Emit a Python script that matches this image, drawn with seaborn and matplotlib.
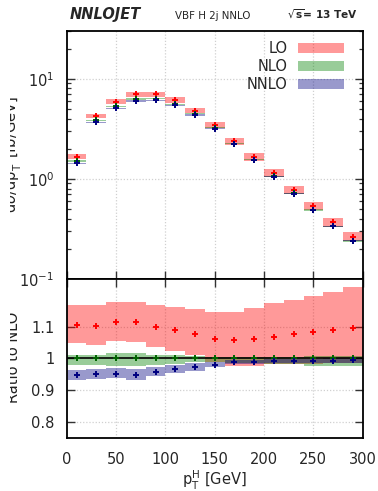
import numpy as np
import matplotlib
matplotlib.use("Agg")
import matplotlib.pyplot as plt
from matplotlib.transforms import Bbox
from matplotlib.ticker import FixedLocator, LogLocator, NullFormatter
import seaborn as sns

# p_T^H bins [GeV]
bin_edges = [0, 20, 40, 60, 80, 100, 120, 140, 160, 180, 200, 220, 240, 260, 280, 300]

# NLO central prediction dsigma/dpT [fb/GeV]
nlo = [1.51, 3.85, 5.31, 6.31, 6.35, 5.60, 4.47, 3.25, 2.25, 1.56, 1.06, 0.716, 0.492, 0.339, 0.242]
nlo_up = [1.012, 1.012, 1.016, 1.016, 1.012, 1.009, 1.008, 1.004, 1.003, 1.003, 1.005, 1.005, 1.008, 1.008, 1.008]
nlo_dn = [0.980, 0.980, 0.977, 0.976, 0.979, 0.983, 0.988, 0.988, 0.985, 0.985, 0.983, 0.983, 0.975, 0.975, 0.975]

# LO and NNLO relative to NLO, with scale-variation envelopes
lo_ratio = [1.106, 1.102, 1.113, 1.113, 1.099, 1.088, 1.077, 1.060, 1.058, 1.060, 1.068, 1.076, 1.083, 1.088, 1.097]
lo_up = [1.167, 1.167, 1.179, 1.179, 1.167, 1.161, 1.154, 1.145, 1.147, 1.158, 1.173, 1.184, 1.198, 1.210, 1.224]
lo_dn = [1.049, 1.043, 1.054, 1.051, 1.035, 1.022, 1.009, 0.987, 0.977, 0.975, 0.983, 0.983, 0.983, 0.985, 0.985]

nnlo_ratio = [0.948, 0.952, 0.952, 0.948, 0.958, 0.967, 0.973, 0.980, 0.988, 0.988, 0.993, 0.991, 0.993, 0.993, 0.994]
nnlo_up = [0.964, 0.966, 0.970, 0.966, 0.972, 0.980, 0.985, 0.988, 0.995, 0.995, 0.999, 0.999, 0.999, 1.000, 1.002]
nnlo_dn = [0.932, 0.935, 0.937, 0.933, 0.945, 0.955, 0.960, 0.973, 0.982, 0.982, 0.984, 0.984, 0.984, 0.985, 0.985]

orders = ["LO", "NLO", "NNLO"]
band_colors = {"LO": "#ff0000", "NLO": "#008000", "NNLO": "#000080"}
mark_colors = {"LO": "#ff0000", "NLO": "#006400", "NNLO": "#000080"}

edges = np.array(bin_edges, dtype=float)
centers = 0.5 * (edges[:-1] + edges[1:])
nlo_a = np.array(nlo)
ratios = {
    "LO": (np.array(lo_ratio), np.array(lo_dn), np.array(lo_up)),
    "NLO": (np.ones(len(nlo)), np.array(nlo_dn), np.array(nlo_up)),
    "NNLO": (np.array(nnlo_ratio), np.array(nnlo_dn), np.array(nnlo_up)),
}

sns.set_theme(style="ticks")
plt.rcParams["font.family"] = ["DejaVu Sans"]
plt.rcParams["mathtext.fontset"] = "dejavusans"

W, H = 378, 491
fig = plt.figure(figsize=(W / 100, H / 100), dpi=100)
x0, x1 = 66.7, 362.7
ax = fig.add_axes([x0 / W, (H - 279) / H, (x1 - x0) / W, (279 - 31) / H])
axr = fig.add_axes([x0 / W, (H - 437.7) / H, (x1 - x0) / W, (437.7 - 279) / H])


def step(vals):
    return np.append(vals, vals[-1])


grid_kw = dict(color="#d0d0d0", linestyle=(0, (1, 1.5)), linewidth=0.9)

handles = []
for name in orders:
    r, dn, up = ratios[name]
    c = band_colors[name]
    h = ax.fill_between(edges, step(nlo_a * dn), step(nlo_a * up), step="post",
                        color=c, alpha=0.4, linewidth=0, zorder=2, label=name)
    handles.append(h)
    axr.fill_between(edges, step(dn), step(up), step="post",
                     color=c, alpha=0.4, linewidth=0, zorder=2)

axr.axhline(1.0, color="black", linewidth=1.2, zorder=3)

for name in orders:
    r, dn, up = ratios[name]
    sns.scatterplot(x=centers, y=nlo_a * r, ax=ax, marker="+", s=13,
                    color=mark_colors[name], linewidth=1.4, zorder=4, legend=False)
    sns.scatterplot(x=centers, y=r, ax=axr, marker="+", s=13,
                    color=mark_colors[name], linewidth=1.4, zorder=4, legend=False)

# upper panel: absolute distribution
ax.set_yscale("log")
ax.set_xlim(0, 300)
ax.set_ylim(0.1, 30)
ax.yaxis.set_major_locator(FixedLocator([0.1, 1, 10]))
ax.yaxis.set_minor_locator(LogLocator(base=10, subs=np.arange(2, 10)))
ax.yaxis.set_minor_formatter(NullFormatter())
ax.set_xticks([0, 50, 100, 150, 200, 250, 300])
ax.tick_params(axis="x", which="both", direction="in", bottom=True, top=False,
               labelbottom=False, length=6, width=1.0, color="#333333")
ax.tick_params(axis="y", which="major", direction="in", left=True, right=True,
               length=6, width=1.0, labelsize=10.5, pad=9, color="#333333")
ax.tick_params(axis="y", which="minor", direction="in", left=True, right=True,
               length=3, width=0.9, color="#333333")
for v in [50, 100, 150, 200, 250]:
    ax.axvline(v, zorder=0, **grid_kw)
for v in [1, 10]:
    ax.axhline(v, zorder=0, **grid_kw)

# lower panel: ratio to NLO
axr.set_xlim(0, 300)
axr.set_ylim(0.75, 1.25)
axr.set_yticks([0.8, 0.9, 1.0, 1.1])
axr.set_yticklabels(["0.8", "0.9", "1", "1.1"])
axr.set_xticks([0, 50, 100, 150, 200, 250, 300])
axr.tick_params(axis="x", direction="in", bottom=False, top=True, labelbottom=True,
                length=6, width=1.0, labelsize=10.5, pad=10, color="#333333")
axr.tick_params(axis="y", direction="in", left=True, right=True, length=6,
                width=1.0, labelsize=10.5, pad=9, color="#333333")
for v in [50, 100, 150, 200, 250]:
    axr.axvline(v, zorder=0, **grid_kw)
for v in [0.8, 0.9, 1.1]:
    axr.axhline(v, zorder=0, **grid_kw)

for a in (ax, axr):
    for s in a.spines.values():
        s.set_color("black")
        s.set_linewidth(1.3)
        s.set_zorder(5)
    a.set_facecolor("white")

leg = ax.legend(handles=handles, loc="upper right", markerfirst=False, frameon=False,
                fontsize=10.5, handlelength=3.2, handleheight=0.6, handletextpad=0.7,
                labelspacing=0.2, borderaxespad=0.3, bbox_to_anchor=(0.972, 1.0))

fig.text((x0 + x1) / 2 / W, (H - 480) / H, r"$\mathrm{p}_\mathrm{T}^\mathrm{H}$ [GeV]",
         fontsize=10.5, ha="center", va="center")

# rotated axis titles, trimmed along their upper edge
clip = Bbox.from_extents(9.5, 0, W, H)
for txt, yc in [(r"d$\sigma$/dp$_\mathrm{T}^\mathrm{H}$ [fb/GeV]", 155),
                ("Ratio to NLO", 357)]:
    t = fig.text(17.8 / W, (H - yc) / H, txt, rotation=90, rotation_mode="anchor",
                 ha="center", va="baseline", fontsize=10.5, color="#222222")
    t.set_clip_on(True)
    t.set_clip_box(clip)

# header
fig.text(70 / W, (H - 19.5) / H, "NNLOJET", fontsize=10.5, fontweight="bold",
         fontstyle="italic", ha="left", va="baseline")
fig.text(213 / W, (H - 19) / H, "VBF H 2j NNLO", fontsize=7.4, ha="center", va="baseline")
fig.text(358 / W, (H - 19) / H, r"$\sqrt{\mathbf{s}}$= 13 TeV", fontsize=7.6,
         fontweight="bold", ha="right", va="baseline")

fig.savefig("out.png", dpi=100)
